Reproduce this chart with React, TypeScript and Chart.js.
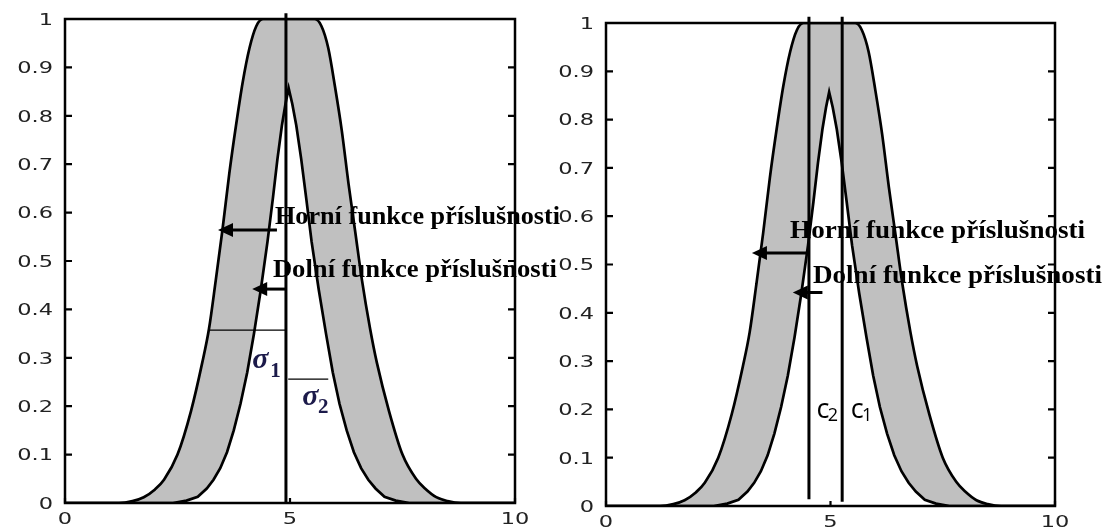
import React, { useEffect, useRef } from "react";
import { Chart, registerables } from "chart.js";
Chart.register(...registerables);

// ---------------- data ----------------
// Upper membership function (outer curve)
const upperX = [0, 1.2, 1.5, 1.75, 2.0, 2.2, 2.5, 2.8, 3.05, 3.2, 3.35, 3.5, 3.65, 3.8, 3.95, 4.1, 4.25, 4.4, 5.55, 5.7, 5.85, 6.0, 6.15, 6.3, 6.45, 6.6, 6.78, 6.93, 7.2, 7.5, 7.8, 8.0, 8.25, 8.5, 8.8, 10];
const upperY = [0, 0, 0.004, 0.012, 0.028, 0.048, 0.1, 0.19, 0.29, 0.36, 0.46, 0.565, 0.68, 0.78, 0.87, 0.94, 0.985, 1, 1, 0.985, 0.94, 0.86, 0.77, 0.66, 0.56, 0.46, 0.36, 0.29, 0.19, 0.1, 0.05, 0.03, 0.012, 0.004, 0, 0];
// Lower membership function (inner curve)
const lowerX = [0, 2.4, 2.7, 2.95, 3.15, 3.3, 3.45, 3.6, 3.75, 3.9, 4.05, 4.2, 4.35, 4.5, 4.62, 4.72, 4.82, 4.9, 4.97, 5.05, 5.14, 5.25, 5.36, 5.48, 5.64, 5.8, 5.95, 6.1, 6.26, 6.42, 6.58, 6.74, 6.9, 7.1, 7.35, 7.65, 10];
const lowerY = [0, 0, 0.005, 0.013, 0.03, 0.048, 0.072, 0.105, 0.15, 0.205, 0.27, 0.35, 0.44, 0.54, 0.63, 0.71, 0.78, 0.825, 0.857, 0.825, 0.78, 0.71, 0.63, 0.54, 0.44, 0.35, 0.27, 0.205, 0.15, 0.105, 0.072, 0.048, 0.03, 0.013, 0.005, 0, 0];

const yTickValues = [0, 0.1, 0.2, 0.3, 0.4, 0.5, 0.6, 0.7, 0.8, 0.9, 1];
const yTickLabels = ["0", "0.1", "0.2", "0.3", "0.4", "0.5", "0.6", "0.7", "0.8", "0.9", "1"];
const xTickValues = [0, 5, 10];
const xTickLabels = ["0", "5", "10"];

// Left panel reference lines
const centerX = [4.91, 4.91];
const centerY = [0, 1.012];
const sigma1X = [3.22, 4.91];
const sigma1Y = [0.357, 0.357];
const sigma2X = [4.96, 5.85];
const sigma2Y = [0.256, 0.256];
// Right panel centre lines
const c2X = [4.52, 4.52];
const c2Y = [0.014, 1.013];
const c1X = [5.26, 5.26];
const c1Y = [0.009, 1.013];

const textUpper = "Horní funkce příslušnosti";
const textLower = "Dolní funkce příslušnosti";

// ---------------- panel specs ----------------
const zip = (xs: number[], ys: number[]) => xs.map((x, i) => ({ x, y: ys[i] }));

const labelFont = 'bold 25px "Liberation Serif"';
const sigmaFont = 'italic bold 30px "Liberation Serif"';
const subFont = 'bold 21px "Liberation Serif"';
const sigmaColor = "#1c1a4a";

const leftSpec = {
  left: 0,
  width: 560,
  padding: { left: 65, right: 45, top: 19, bottom: 27 },
  lines: [
    { xs: centerX, ys: centerY, w: 3 },
    { xs: sigma1X, ys: sigma1Y, w: 1.3 },
    { xs: sigma2X, ys: sigma2Y, w: 1.3 },
  ],
  arrows: [
    { x0: 4.71, x1: 3.4, y: 0.564 },
    { x0: 4.91, x1: 4.16, y: 0.442 },
  ],
  texts: [
    { text: textUpper, x: 4.667, y: 0.576, font: labelFont, color: "#000", width: 285 },
    { text: textLower, x: 4.62, y: 0.467, font: labelFont, color: "#000", width: 284 },
    { text: "σ", x: 4.16, y: 0.279, font: sigmaFont, color: sigmaColor },
    { text: "1", x: 4.56, y: 0.26, font: subFont, color: sigmaColor },
    { text: "σ", x: 5.27, y: 0.202, font: sigmaFont, color: sigmaColor },
    { text: "2", x: 5.62, y: 0.186, font: subFont, color: sigmaColor },
  ],
};

const cFont = '27px "Open Sans"';
const cSubFont = '18px "Open Sans"';

const rightSpec = {
  left: 540,
  width: 565,
  padding: { left: 66, right: 50, top: 23, bottom: 24 },
  lines: [
    { xs: c2X, ys: c2Y, w: 3 },
    { xs: c1X, ys: c1Y, w: 3 },
  ],
  arrows: [
    { x0: 4.5, x1: 3.25, y: 0.524 },
    { x0: 4.82, x1: 4.16, y: 0.442 },
  ],
  texts: [
    { text: textUpper, x: 4.1, y: 0.555, font: labelFont, color: "#000", width: 295 },
    { text: textLower, x: 4.61, y: 0.462, font: labelFont, color: "#000", width: 289 },
    { text: "c", x: 4.69, y: 0.182, font: cFont, color: "#000" },
    { text: "2", x: 4.94, y: 0.176, font: cSubFont, color: "#000" },
    { text: "c", x: 5.45, y: 0.182, font: cFont, color: "#000" },
    { text: "1", x: 5.7, y: 0.176, font: cSubFont, color: "#000" },
  ],
};

function makeDecor(spec: any) {
  return {
    id: "decor",
    afterDatasetsDraw(chart: any) {
      const { ctx, chartArea: a, scales } = chart;
      const sx = scales.x;
      const sy = scales.y;
      ctx.save();
      // frame
      ctx.strokeStyle = "#000";
      ctx.lineWidth = 2.5;
      ctx.strokeRect(a.left, a.top, a.right - a.left, a.bottom - a.top);
      // inward ticks
      ctx.lineWidth = 2.2;
      ctx.beginPath();
      yTickValues.forEach((v) => {
        if (v <= 0 || v >= 1) return;
        const py = sy.getPixelForValue(v);
        ctx.moveTo(a.left, py);
        ctx.lineTo(a.left + 7, py);
        ctx.moveTo(a.right, py);
        ctx.lineTo(a.right - 7, py);
      });
      xTickValues.forEach((v) => {
        const px = sx.getPixelForValue(v);
        ctx.moveTo(px, a.bottom);
        ctx.lineTo(px, a.bottom - 5);
      });
      ctx.stroke();

      // arrows
      ctx.fillStyle = "#000";
      spec.arrows.forEach((ar: any) => {
        const x0 = sx.getPixelForValue(ar.x0);
        const x1 = sx.getPixelForValue(ar.x1);
        const py = sy.getPixelForValue(ar.y);
        ctx.lineWidth = 3;
        ctx.beginPath();
        ctx.moveTo(x0, py);
        ctx.lineTo(x1 + 10, py);
        ctx.stroke();
        ctx.beginPath();
        ctx.moveTo(x1, py);
        ctx.lineTo(x1 + 15, py - 7);
        ctx.lineTo(x1 + 15, py + 7);
        ctx.closePath();
        ctx.fill();
      });

      // tick labels (wide sans)
      ctx.fillStyle = "#222";
      ctx.font = '15px "DejaVu Sans"';
      ctx.textBaseline = "middle";
      yTickValues.forEach((v, i) => {
        const py = sy.getPixelForValue(v) + 2;
        ctx.save();
        ctx.translate(a.left - 12, py);
        ctx.scale(1.5, 1);
        ctx.textAlign = "right";
        ctx.fillText(yTickLabels[i], 0, 0);
        ctx.restore();
      });
      xTickValues.forEach((v, i) => {
        const px = sx.getPixelForValue(v);
        ctx.save();
        ctx.translate(px, a.bottom + 17);
        ctx.scale(1.5, 1);
        ctx.textAlign = "center";
        ctx.fillText(xTickLabels[i], 0, 0);
        ctx.restore();
      });

      // annotation texts
      spec.texts.forEach((t: any) => {
        ctx.font = t.font;
        ctx.fillStyle = t.color;
        ctx.textAlign = "left";
        ctx.textBaseline = "alphabetic";
        const px = sx.getPixelForValue(t.x);
        const py = sy.getPixelForValue(t.y);
        let k = 1;
        if (t.width) k = t.width / ctx.measureText(t.text).width;
        ctx.save();
        ctx.translate(px, py);
        ctx.scale(k, 1);
        ctx.fillText(t.text, 0, 0);
        ctx.restore();
      });
      ctx.restore();
    },
  };
}

function Panel({ spec }: { spec: any }) {
  const ref = useRef<HTMLCanvasElement>(null);
  useEffect(() => {
    const lineSets = spec.lines.map((l: any) => ({
      data: zip(l.xs, l.ys),
      borderColor: "#000",
      borderWidth: l.w,
      pointRadius: 0,
      fill: false,
      clip: false,
      tension: 0,
      order: 0,
    }));
    const chart = new Chart(ref.current!, {
      type: "line",
      data: {
        datasets: [
          ...lineSets,
          {
            data: zip(lowerX, lowerY),
            borderColor: "#000",
            borderWidth: 2.7,
            pointRadius: 0,
            fill: false,
            tension: 0,
            order: 1,
          },
          {
            data: zip(upperX, upperY),
            borderColor: "#000",
            borderWidth: 2.7,
            pointRadius: 0,
            fill: "-1",
            backgroundColor: "#c0c0c0",
            cubicInterpolationMode: "monotone",
            order: 2,
          },
        ],
      },
      options: {
        responsive: false,
        animation: false,
        devicePixelRatio: 1,
        layout: { padding: spec.padding },
        scales: {
          x: { type: "linear", min: 0, max: 10, display: false },
          y: { type: "linear", min: 0, max: 1, display: false },
        },
        plugins: {
          legend: { display: false },
          tooltip: { enabled: false },
          filler: { drawTime: "beforeDatasetsDraw" },
        },
      } as any,
      plugins: [makeDecor(spec)],
    } as any);
    return () => chart.destroy();
  }, [spec]);
  return (
    <canvas
      ref={ref}
      width={spec.width}
      height={530}
      style={{ position: "absolute", left: spec.left, top: 0, width: spec.width, height: 530 }}
    />
  );
}

export default function App() {
  return (
    <div
      style={{
        position: "absolute",
        left: 0,
        top: 0,
        width: 1105,
        height: 530,
        background: "#fff",
        overflow: "hidden",
      }}
    >
      <Panel spec={leftSpec} />
      <Panel spec={rightSpec} />
    </div>
  );
}
